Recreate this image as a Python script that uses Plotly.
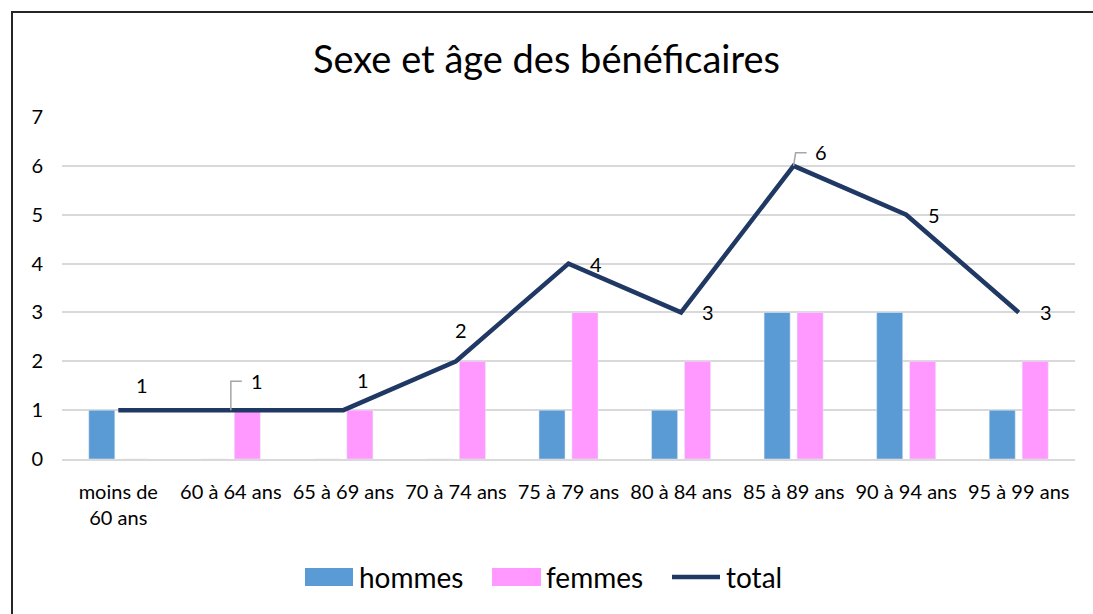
import plotly.graph_objects as go

categories = ["moins de<br>60 ans", "60 à 64 ans", "65 à 69 ans", "70 à 74 ans",
              "75 à 79 ans", "80 à 84 ans", "85 à 89 ans", "90 à 94 ans", "95 à 99 ans"]
hommes = [1, 0, 0, 0, 1, 1, 3, 3, 1]
femmes = [0, 1, 1, 2, 3, 2, 3, 2, 2]
total = [1, 1, 1, 2, 4, 3, 6, 5, 3]
series_names = ["hommes", "femmes", "total"]
series_colors = ["#5b9bd5", "#ff99ff", "#203864"]

W, H = 1093, 614
L, R, T, B = 62, 18, 117, 155
PW, PH = W - L - R, H - T - B

def px(x):
    return (x - L) / PW

def py(y):
    return (H - B - y) / PH

FONT = "Lato, Calibri, 'Noto Sans', sans-serif"

fig = go.Figure()
fig.add_trace(go.Bar(name=series_names[0], x=categories, y=hommes, marker_color=series_colors[0]))
fig.add_trace(go.Bar(name=series_names[1], x=categories, y=femmes, marker_color=series_colors[1]))
fig.add_trace(go.Scatter(name=series_names[2], x=categories, y=total, mode="lines",
                         line=dict(color=series_colors[2], width=4.5)))

# data labels for total (pixel offsets are style)
offsets = [(24, 25), (26, 29), (20, 30), (5, 31), (27, 0), (27, 0), (27, 14), (28, 0), (27, 0)]
for c, v, (dx, dy) in zip(categories, total, offsets):
    fig.add_annotation(x=c, y=v, text=str(v), showarrow=False, xshift=dx, yshift=dy,
                       font=dict(size=20, color="#000000", family=FONT))

# leader lines
for idx, path in [(1, "M0,0 L0,29 L11,29"), (6, "M0,0 L2,13 L13,13")]:
    fig.add_shape(type="path", xref="x", yref="y", xsizemode="pixel", ysizemode="pixel",
                  xanchor=idx, yanchor=total[idx], path=path,
                  line=dict(color="#a6a6a6", width=1.5))

# outer border (left and top)
fig.add_shape(type="path", xref="paper", yref="paper",
              path=f"M{px(12)},{py(620)} L{px(12)},{py(12)} L{px(1100)},{py(12)}",
              line=dict(color="#262626", width=2), layer="above")

# custom legend (swatches + real text)
leg_y = 577
swatches = [(305, 353), (492, 541), (670, 722)]
text_x = [357, 544, 724]
for i, (name, col) in enumerate(zip(series_names, series_colors)):
    x0, x1 = swatches[i]
    if i < 2:
        fig.add_shape(type="rect", xref="paper", yref="paper",
                      x0=px(x0), x1=px(x1), y0=py(leg_y + 9), y1=py(leg_y - 9),
                      fillcolor=col, line=dict(width=0))
    else:
        fig.add_shape(type="line", xref="paper", yref="paper",
                      x0=px(x0 + 2), x1=px(x1 - 2), y0=py(leg_y), y1=py(leg_y),
                      line=dict(color=col, width=4.5))
    fig.add_annotation(xref="paper", yref="paper", x=px(text_x[i]), y=py(leg_y),
                       xanchor="left", yanchor="middle", text=name, showarrow=False,
                       font=dict(size=28, color="#000000", family=FONT))

fig.update_layout(
    width=W, height=H,
    margin=dict(l=L, r=R, t=T, b=B),
    paper_bgcolor="white", plot_bgcolor="white",
    font=dict(family=FONT, color="#000000", size=20),
    title=dict(text="Sexe et âge des bénéficaires", x=0.5, xanchor="center",
               y=1 - 60 / H, yanchor="middle", font=dict(size=38, color="#000000", family=FONT)),
    barmode="group", bargap=0.414, bargroupgap=0.21,
    showlegend=False,
)
fig.update_xaxes(showgrid=False, showline=True, linecolor="#d9d9d9", linewidth=1.5,
                 ticks="", tickfont=dict(size=20, color="#000000"), ticklabelstandoff=14)
fig.update_yaxes(range=[0, 7], dtick=1, showgrid=True, gridcolor="#d9d9d9", gridwidth=1.5,
                 zeroline=False, showline=False, ticks="", ticklabelstandoff=18,
                 tickfont=dict(size=20, color="#000000"))

fig.write_html("out.html", config={"displayModeBar": False},
               post_script="document.body.style.margin='0';")
